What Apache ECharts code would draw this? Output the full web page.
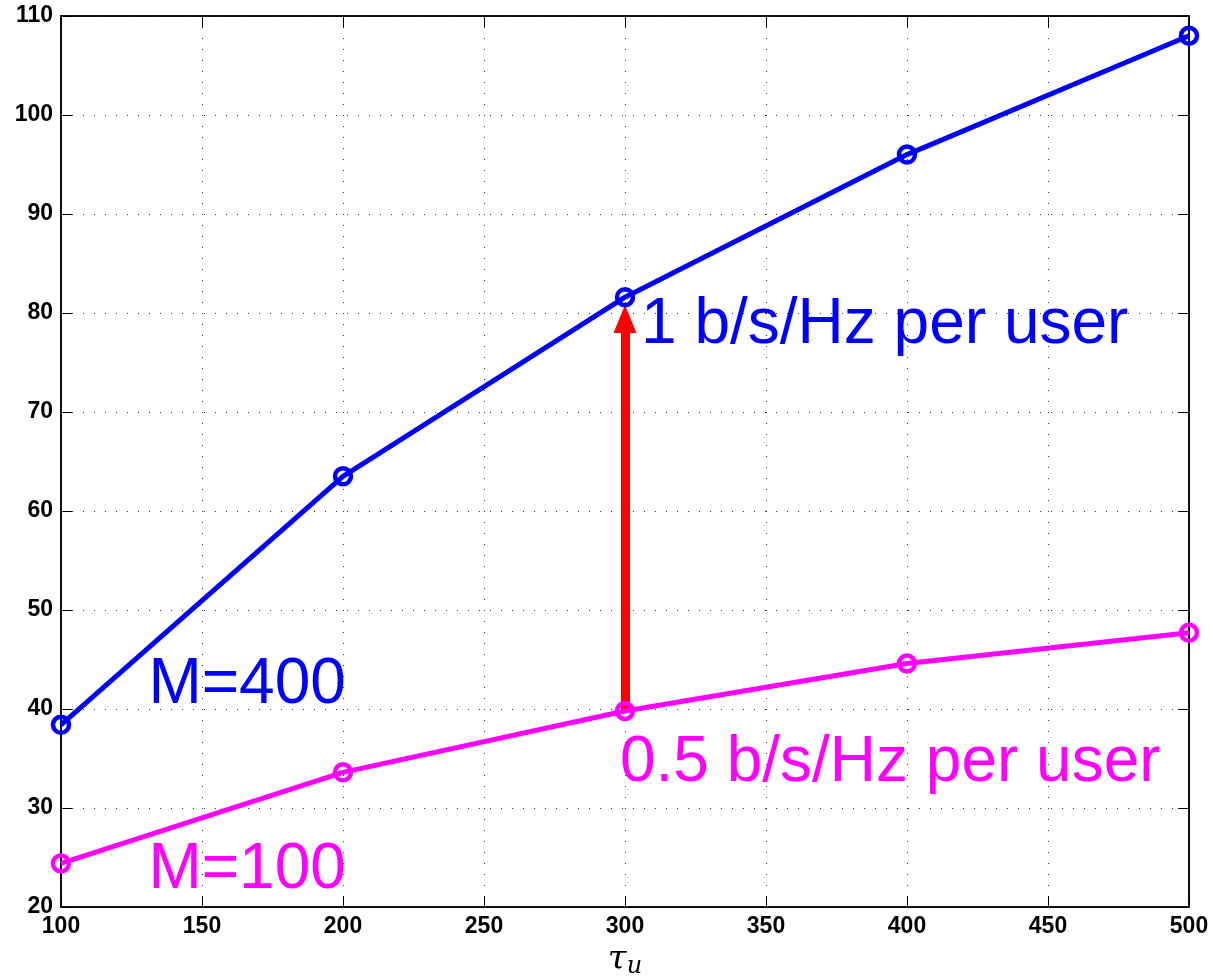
<!DOCTYPE html>
<html>
<head>
<meta charset="utf-8">
<script src="https://cdn.jsdelivr.net/npm/echarts@6/dist/echarts.min.js"></script>
<style>
  html, body { margin: 0; padding: 0; background: #fff; }
  #main { width: 1213px; height: 977px; }
</style>
</head>
<body>
<div id="main"></div>
<script>
  // data
  var tau = [100, 200, 300, 400, 500];
  var rateM400 = [38.4, 63.5, 81.6, 96.0, 108.0];
  var rateM100 = [24.4, 33.6, 39.8, 44.6, 47.7];
  // red arrow: from M=100 curve up to M=400 curve at tau=300
  var arrowFrom = [300, 39.8];
  var arrowTo = [300, 79.4];
  // text notes, anchored in data space (left edge, vertical middle)
  var noteText = ['M=400', 'M=100', '1 b/s/Hz per user', '0.5 b/s/Hz per user'];
  var noteX = [131, 131, 305.7, 298.2];
  var noteY = [42.4, 23.7, 78.8, 34.5];
  var noteColor = ['#0000ff', '#ff00ff', '#0000ff', '#ff00ff'];

  var BLUE = '#0000ff', MAGENTA = '#ff00ff';
  var labelFont = { color: '#000', fontSize: 23, fontWeight: 'bold', fontFamily: 'Liberation Sans, Arial, sans-serif' };
  var gridLine = { show: true, lineStyle: { color: '#333', type: [1, 10], width: 1 } };

  var myChart = echarts.init(document.getElementById('main'));
  myChart.setOption({
    backgroundColor: '#fff',
    animation: false,
    grid: {
      left: 61, right: 24, top: 16, bottom: 70,
      outerBoundsMode: 'none', containLabel: false,
      show: true, borderColor: '#000', borderWidth: 1.5
    },
    xAxis: [{
      type: 'value', min: 100, max: 500, interval: 50,
      name: '{t|τ}{s|u}', nameLocation: 'middle', nameGap: 28,
      nameTextStyle: {
        rich: {
          t: { fontSize: 34, fontStyle: 'italic', fontFamily: 'DejaVu Serif, serif', color: '#000' },
          s: { fontSize: 24, fontStyle: 'italic', fontFamily: 'DejaVu Serif, serif', color: '#000', padding: [14, 0, 0, 0] }
        }
      },
      axisLine: { show: true, onZero: false, lineStyle: { color: '#000', width: 1.5 } },
      axisTick: { show: true, inside: true, length: 11, lineStyle: { color: '#000' } },
      axisLabel: Object.assign({ margin: 8 }, labelFont),
      splitLine: gridLine
    }, {
      type: 'value', position: 'top', min: 100, max: 500, interval: 50,
      axisLine: { show: true, onZero: false, lineStyle: { color: '#000', width: 1.5 } },
      axisTick: { show: true, inside: true, length: 11, lineStyle: { color: '#000' } },
      axisLabel: { show: false }, splitLine: { show: false }
    }],
    yAxis: [{
      type: 'value', min: 20, max: 110, interval: 10,
      axisLine: { show: true, onZero: false, lineStyle: { color: '#000', width: 1.5 } },
      axisTick: { show: true, inside: true, length: 11, lineStyle: { color: '#000' } },
      axisLabel: Object.assign({ margin: 8 }, labelFont),
      splitLine: gridLine
    }, {
      type: 'value', position: 'right', min: 20, max: 110, interval: 10,
      axisLine: { show: true, onZero: false, lineStyle: { color: '#000', width: 1.5 } },
      axisTick: { show: true, inside: true, length: 11, lineStyle: { color: '#000' } },
      axisLabel: { show: false }, splitLine: { show: false }
    }],
    series: [{
      name: 'M=400', type: 'line',
      data: tau.map(function (t, i) { return [t, rateM400[i]]; }),
      symbol: 'circle', symbolSize: 16,
      lineStyle: { color: BLUE, width: 5 },
      itemStyle: { color: 'rgba(0,0,0,0)', borderColor: BLUE, borderWidth: 4.5 },
      z: 3
    }, {
      name: 'M=100', type: 'line',
      data: tau.map(function (t, i) { return [t, rateM100[i]]; }),
      symbol: 'circle', symbolSize: 16,
      lineStyle: { color: MAGENTA, width: 5 },
      itemStyle: { color: 'rgba(0,0,0,0)', borderColor: MAGENTA, borderWidth: 4.5 },
      z: 3,
      markLine: {
        silent: true, animation: false,
        symbol: ['none', 'triangle'], symbolSize: [23, 28],
        label: { show: false },
        lineStyle: { color: '#ff0000', width: 9, type: 'solid' },
        data: [[{ coord: arrowFrom }, { coord: arrowTo }]],
        z: 2
      }
    }]
  });

  // place the text notes through the grid's own scale
  var notes = noteText.map(function (txt, i) {
    var p = myChart.convertToPixel({ gridIndex: 0 }, [noteX[i], noteY[i]]);
    return {
      type: 'text', x: p[0], y: p[1], z: 10,
      style: {
        text: txt, fill: noteColor[i], fontSize: 64,
        fontFamily: 'Liberation Sans, Arial, sans-serif',
        align: 'left', verticalAlign: 'middle'
      }
    };
  });
  myChart.setOption({ graphic: notes });
</script>
</body>
</html>
